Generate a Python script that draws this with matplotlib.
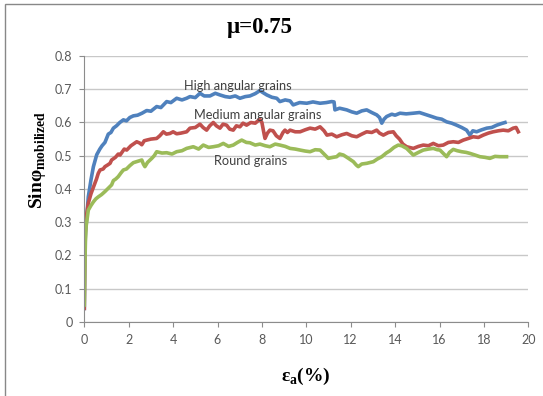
import matplotlib
matplotlib.use('Agg')
import matplotlib.pyplot as plt
from matplotlib.patches import Rectangle

# values (strain %, sin phi)
high_pts = [(0, 0.04), (0.02, 0.2), (0.05, 0.27), (0.1, 0.306), (0.18, 0.376), (0.3, 0.427),
            (0.41, 0.467), (0.56, 0.503), (0.7, 0.52), (0.8, 0.53), (0.93, 0.54), (1.08, 0.565),
            (1.2, 0.57), (1.31, 0.583), (1.45, 0.59), (1.6, 0.6), (1.76, 0.608), (1.9, 0.605),
            (2.05, 0.615), (2.21, 0.62), (2.4, 0.622), (2.6, 0.628), (2.81, 0.636), (3.0, 0.634),
            (3.26, 0.648), (3.45, 0.645), (3.71, 0.663), (3.9, 0.66), (4.16, 0.673), (4.4, 0.668),
            (4.61, 0.673), (4.76, 0.678), (5.0, 0.675), (5.21, 0.688), (5.4, 0.68), (5.66, 0.68),
            (5.9, 0.688), (6.11, 0.683), (6.35, 0.678), (6.56, 0.676), (6.8, 0.68), (7.01, 0.673),
            (7.25, 0.678), (7.46, 0.68), (7.7, 0.687), (7.91, 0.696), (8.05, 0.69), (8.22, 0.683),
            (8.45, 0.676), (8.67, 0.673), (8.81, 0.663), (9.05, 0.668), (9.27, 0.665), (9.41, 0.653),
            (9.7, 0.66), (10.02, 0.658), (10.3, 0.662), (10.62, 0.658), (10.9, 0.66), (11.14, 0.663),
            (11.25, 0.662), (11.29, 0.638), (11.5, 0.643), (11.82, 0.638), (12.05, 0.632),
            (12.27, 0.628), (12.5, 0.635), (12.72, 0.638), (12.95, 0.63), (13.17, 0.623),
            (13.3, 0.615), (13.4, 0.598), (13.5, 0.61), (13.62, 0.618), (13.85, 0.625), (14.0, 0.622),
            (14.22, 0.628), (14.5, 0.626), (14.82, 0.628), (15.1, 0.63), (15.42, 0.623),
            (15.65, 0.618), (15.87, 0.613), (16.1, 0.61), (16.32, 0.602), (16.55, 0.598),
            (16.77, 0.592), (17.0, 0.585), (17.22, 0.577), (17.37, 0.562), (17.5, 0.575),
            (17.67, 0.572), (17.9, 0.578), (18.13, 0.583), (18.35, 0.585), (18.58, 0.592),
            (18.8, 0.597), (18.95, 0.6)]

medium_pts = [(0, 0.04), (0.02, 0.2), (0.05, 0.28), (0.07, 0.306), (0.18, 0.357), (0.3, 0.385),
              (0.41, 0.405), (0.55, 0.43), (0.63, 0.447), (0.71, 0.457), (0.85, 0.46), (0.93, 0.467),
              (1.05, 0.472), (1.16, 0.477), (1.23, 0.487), (1.4, 0.495), (1.53, 0.505), (1.61, 0.502),
              (1.8, 0.52), (1.91, 0.517), (2.1, 0.53), (2.36, 0.542), (2.5, 0.538), (2.59, 0.533),
              (2.7, 0.545), (2.81, 0.547), (3.0, 0.55), (3.26, 0.552), (3.4, 0.56), (3.56, 0.572),
              (3.7, 0.565), (3.86, 0.567), (4.0, 0.572), (4.16, 0.566), (4.35, 0.568), (4.61, 0.572),
              (4.76, 0.583), (5.0, 0.585), (5.21, 0.595), (5.35, 0.585), (5.51, 0.577), (5.65, 0.59),
              (5.81, 0.6), (5.95, 0.59), (6.11, 0.583), (6.25, 0.595), (6.41, 0.592), (6.55, 0.58),
              (6.71, 0.577), (6.85, 0.59), (7.01, 0.587), (7.15, 0.598), (7.31, 0.592), (7.5, 0.6),
              (7.7, 0.598), (7.91, 0.61), (8.0, 0.6), (8.1, 0.565), (8.14, 0.552), (8.25, 0.568),
              (8.36, 0.577), (8.5, 0.575), (8.65, 0.56), (8.81, 0.552), (8.95, 0.57), (9.04, 0.577),
              (9.15, 0.57), (9.27, 0.577), (9.5, 0.572), (9.72, 0.572), (9.95, 0.578), (10.17, 0.583),
              (10.4, 0.58), (10.62, 0.587), (10.8, 0.575), (10.93, 0.562), (11.15, 0.565),
              (11.37, 0.557), (11.6, 0.563), (11.82, 0.567), (12.05, 0.56), (12.27, 0.557),
              (12.5, 0.565), (12.72, 0.572), (12.95, 0.57), (13.17, 0.577), (13.3, 0.568),
              (13.47, 0.562), (13.7, 0.57), (13.92, 0.572), (14.05, 0.56), (14.2, 0.55),
              (14.35, 0.535), (14.52, 0.527), (14.82, 0.522), (15.05, 0.528), (15.27, 0.532),
              (15.5, 0.53), (15.72, 0.537), (15.95, 0.53), (16.17, 0.532), (16.4, 0.54),
              (16.62, 0.542), (16.85, 0.54), (17.07, 0.547), (17.3, 0.552), (17.52, 0.557),
              (17.75, 0.555), (17.97, 0.562), (18.2, 0.568), (18.42, 0.572), (18.65, 0.575),
              (18.87, 0.577), (19.1, 0.575), (19.32, 0.583), (19.45, 0.585), (19.55, 0.572)]

round_pts = [(0, 0.05), (0.02, 0.15), (0.05, 0.24), (0.08, 0.286), (0.18, 0.336), (0.3, 0.35),
             (0.41, 0.361), (0.52, 0.37), (0.63, 0.376), (0.78, 0.383), (0.93, 0.392), (1.08, 0.402),
             (1.23, 0.412), (1.31, 0.425), (1.42, 0.43), (1.53, 0.437), (1.65, 0.448), (1.76, 0.457),
             (1.9, 0.46), (2.05, 0.47), (2.21, 0.479), (2.4, 0.483), (2.59, 0.487), (2.66, 0.475),
             (2.73, 0.467), (2.85, 0.48), (3.04, 0.492), (3.15, 0.5), (3.26, 0.512), (3.5, 0.508),
             (3.71, 0.509), (3.95, 0.505), (4.16, 0.512), (4.4, 0.515), (4.61, 0.522), (4.91, 0.527),
             (5.15, 0.52), (5.36, 0.532), (5.6, 0.525), (5.81, 0.527), (6.05, 0.53), (6.26, 0.537),
             (6.5, 0.528), (6.71, 0.532), (6.9, 0.54), (7.09, 0.547), (7.3, 0.54), (7.46, 0.539),
             (7.7, 0.532), (7.91, 0.535), (8.15, 0.53), (8.36, 0.527), (8.6, 0.535), (8.81, 0.532),
             (9.05, 0.528), (9.27, 0.522), (9.5, 0.52), (9.72, 0.517), (9.95, 0.514), (10.17, 0.512),
             (10.4, 0.518), (10.62, 0.517), (10.8, 0.505), (10.99, 0.492), (11.2, 0.495),
             (11.37, 0.497), (11.5, 0.505), (11.67, 0.502), (11.9, 0.492), (12.12, 0.482),
             (12.25, 0.472), (12.34, 0.467), (12.5, 0.475), (12.72, 0.477), (12.9, 0.48),
             (13.02, 0.482), (13.2, 0.49), (13.4, 0.497), (13.6, 0.508), (13.77, 0.515),
             (13.95, 0.525), (14.14, 0.532), (14.3, 0.53), (14.52, 0.522), (14.7, 0.51),
             (14.82, 0.502), (15.05, 0.51), (15.27, 0.517), (15.5, 0.52), (15.72, 0.522),
             (15.9, 0.518), (16.02, 0.517), (16.2, 0.505), (16.32, 0.497), (16.45, 0.51),
             (16.62, 0.519), (16.8, 0.515), (17.0, 0.512), (17.2, 0.51), (17.37, 0.507),
             (17.6, 0.502), (17.82, 0.497), (18.05, 0.495), (18.27, 0.492), (18.5, 0.498),
             (18.72, 0.497), (19.02, 0.497)]

series_names = ['High angular grains', 'Medium angular grains', 'Round grains']
label_pos = [(6.9, 0.709), (7.79, 0.623), (7.49, 0.485)]
colors = ['#4F81BD', '#C0504D', '#9BBB59']
xticks = list(range(0, 21, 2))
yticks = [0, 0.1, 0.2, 0.3, 0.4, 0.5, 0.6, 0.7, 0.8]

plt.rcParams['mathtext.fontset'] = 'custom'
plt.rcParams['mathtext.rm'] = 'Liberation Serif'
plt.rcParams['mathtext.bf'] = 'Liberation Serif:bold'

fig = plt.figure(figsize=(5.43, 3.96), dpi=100)
ax = fig.add_axes([84.3 / 543, 1 - 321.7 / 396, 444 / 543, 265.6 / 396])

for pts, c in zip([high_pts, medium_pts, round_pts], colors):
    xs = [p[0] for p in pts]
    ys = [p[1] for p in pts]
    ax.plot(xs, ys, color=c, lw=2.6, solid_joinstyle='round')

for name, (lx, ly) in zip(series_names, label_pos):
    ax.text(lx, ly, name, ha='center', va='center', fontsize=9.2,
            family='Lato', color='#404040')

ax.set_xlim(0, 20)
ax.set_ylim(0, 0.8)
ax.set_xticks(xticks)
ax.set_yticks(yticks)
ax.set_yticklabels(['0' if v == 0 else '%.1f' % v for v in yticks])
for s in ['top', 'right']:
    ax.spines[s].set_visible(False)
for s in ['left', 'bottom']:
    ax.spines[s].set_color('#8c8c8c')
ax.tick_params(colors='#8c8c8c', length=3.5, width=0.8, labelsize=9, labelcolor='#595959', pad=5)
for lbl in ax.get_xticklabels() + ax.get_yticklabels():
    lbl.set_family('Lato')
ax.yaxis.grid(True, color='#c8c8c8', lw=1.0)
ax.set_axisbelow(True)

fig.text(260 / 543, 1 - 27 / 396, 'μ=0.75', ha='center', va='center', fontsize=16.5,
         fontweight='bold', family='Liberation Serif')
fig.text(37 / 543, 1 - 160 / 396, r'Sinφ$_{\mathbf{mobilized}}$', rotation=90, ha='center',
         va='center', fontsize=14, fontweight='bold', family='Liberation Serif')
fig.text(306 / 543, 1 - 376 / 396, r'ε$_{\mathbf{a}}$(%)', ha='center', va='center',
         fontsize=14, fontweight='bold', family='Liberation Serif')

# chart-area border (right and bottom edges fall outside the picture)
fig.patches.append(Rectangle((5 / 543, -0.1), 1.2, 1 - 4 / 396 + 0.1, transform=fig.transFigure,
                             fill=False, edgecolor='#888888', lw=1.0))

fig.savefig('out.png', dpi=100)
